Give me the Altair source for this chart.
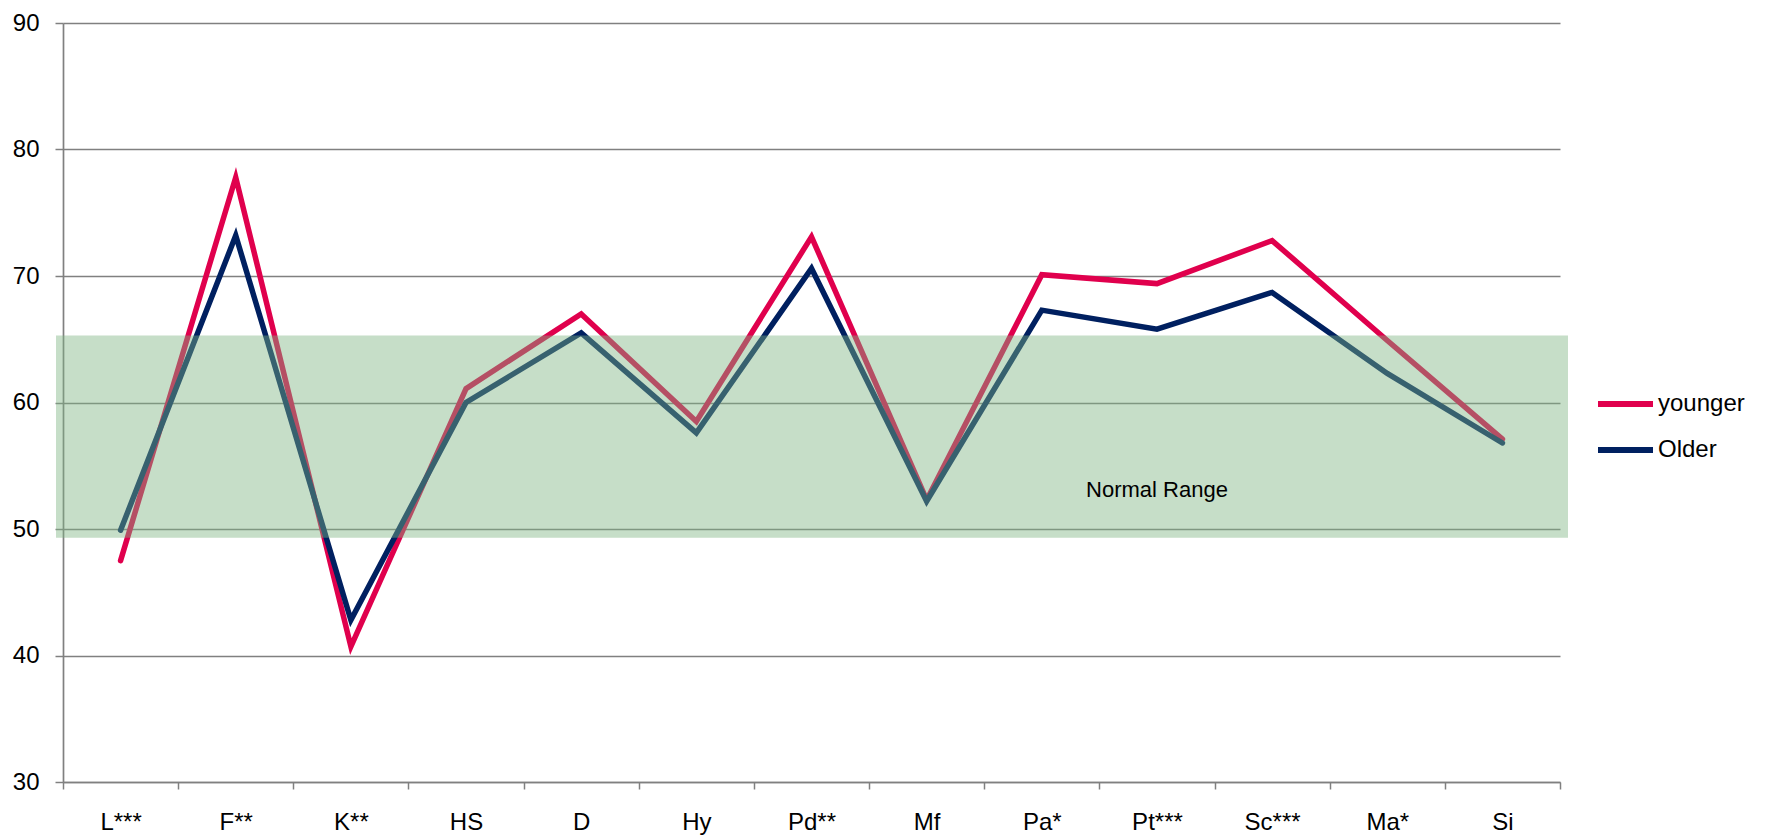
import altair as alt
import pandas as pd

# ---- data ----
categories = ["L***", "F**", "K**", "HS", "D", "Hy", "Pd**", "Mf", "Pa*", "Pt***", "Sc***", "Ma*", "Si"]
younger = [47.5, 77.8, 40.7, 61.1, 67.0, 58.5, 73.1, 52.3, 70.1, 69.4, 72.8, 64.9, 57.1]
older = [49.9, 73.2, 42.8, 60.0, 65.5, 57.6, 70.6, 52.2, 67.3, 65.8, 68.7, 62.3, 56.8]
series_names = ["younger", "Older"]
series_colors = ["#E0004D", "#002060"]
normal_range = [49.3, 65.3]
normal_label = "Normal Range"
normal_label_cat = "Pt***"
normal_label_value = 53.1
y_ticks = [30, 40, 50, 60, 70, 80, 90]
y_domain = [30, 90]

FONT = "Liberation Sans"
W, H = 1497, 759
GRAY = "#808080"

df = pd.DataFrame({
    "cat": categories * 2,
    "value": younger + older,
    "series": [series_names[0]] * len(categories) + [series_names[1]] * len(categories),
})
band_df = pd.DataFrame({"lo": [normal_range[0]], "hi": [normal_range[1]]})
text_df = pd.DataFrame({"cat": [normal_label_cat], "value": [normal_label_value], "label": [normal_label]})

x_scale = alt.Scale(type="band", paddingInner=0, paddingOuter=0)
y_scale = alt.Scale(domain=y_domain, nice=False, zero=False)

lines = alt.Chart(df).mark_line(strokeWidth=5.5, strokeCap="round").encode(
    x=alt.X("cat:N", sort=categories, scale=x_scale, bandPosition=0.5,
            axis=alt.Axis(title=None, tickBand="extent", labelAngle=0, grid=False,
                          tickSize=7, labelPadding=21, labelFontSize=24)),
    y=alt.Y("value:Q", scale=y_scale,
            axis=alt.Axis(title=None, values=y_ticks, grid=True, tickSize=8,
                          labelPadding=16, labelFontSize=24)),
    color=alt.Color("series:N", sort=series_names,
                    scale=alt.Scale(domain=series_names, range=series_colors),
                    legend=alt.Legend(title=None, orient="none", legendX=1532, legendY=369,
                                      symbolType="stroke", symbolSize=3025, symbolStrokeWidth=6,
                                      labelFontSize=24, labelFont=FONT, labelColor="black",
                                      labelOffset=2, clipHeight=24, rowPadding=22, padding=0)),
)

band = alt.Chart(band_df).mark_rect(fill="#7DB482", opacity=0.44).encode(
    x=alt.value(-7), x2=alt.value(W + 8),
    y=alt.Y("lo:Q", scale=y_scale, title=None), y2="hi:Q",
)

text = alt.Chart(text_df).mark_text(font=FONT, fontSize=22, color="black").encode(
    x=alt.X("cat:N", sort=categories, scale=x_scale, bandPosition=0.5, title=None),
    y=alt.Y("value:Q", scale=y_scale, title=None),
    text="label:N",
)

chart = alt.layer(lines, band, text).properties(
    width=W, height=H,
    padding={"left": 55, "top": 15, "right": 201, "bottom": 60},
    autosize=alt.AutoSizeParams(type="none"),
    background="white",
).configure_view(stroke=None).configure_axis(
    labelFont=FONT, labelColor="black",
    domainColor=GRAY, domainWidth=1.7,
    gridColor=GRAY, gridWidth=1.3,
    tickColor=GRAY, tickWidth=1.5,
)

chart.save("out.html", embed_options={"renderer": "svg", "actions": False})
